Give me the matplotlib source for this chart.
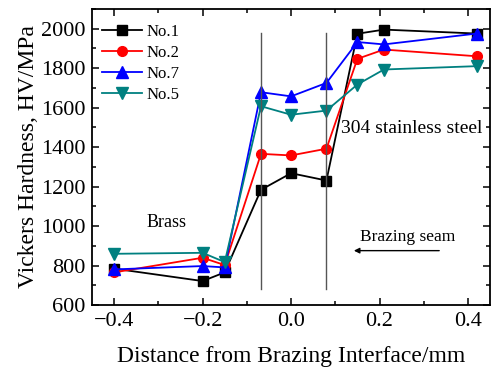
import matplotlib
matplotlib.use('Agg')
import matplotlib.pyplot as plt
from matplotlib.ticker import MultipleLocator

plt.rcParams['font.family'] = ['Liberation Serif', 'DejaVu Serif']
plt.rcParams['mathtext.fontset'] = 'stix'

# distance from brazing interface (mm)
distance = [-0.4, -0.2, -0.15, -0.068, 0.0, 0.08, 0.15, 0.21, 0.42]

# hardness values (HV/MPa)
no1 = [785, 722, 766, 1184, 1268, 1231, 1974, 1995, 1975]
no2 = [766, 840, 803, 1366, 1358, 1392, 1847, 1894, 1860]
no7 = [781, 798, 791, 1678, 1657, 1725, 1932, 1920, 1975]
no5 = [860, 865, 818, 1607, 1564, 1585, 1717, 1793, 1810]

series = [
    ('No.1', no1, 'black', 's', 6.5),
    ('No.2', no2, 'red', 'o', 7),
    ('No.7', no7, 'blue', '^', 8),
    ('No.5', no5, '#008080', 'v', 8),
]

# brazing seam boundaries
seam_x = [-0.068, 0.08]

fig = plt.figure(figsize=(4.95, 3.69), dpi=100)
ax = fig.add_axes([0.186, 0.173, 0.804, 0.803])

for label, vals, col, mk, ms in series:
    ax.plot(distance, vals, '-', color=col, marker=mk, markersize=ms,
            lw=1.3, label=label)

for sx in seam_x:
    ax.plot([sx, sx], [680, 1980], '-', color='#555555', lw=1)

ax.text(0.273, 1495, '304 stainless steel', fontsize=14,
        ha='center', va='center')
ax.text(-0.282, 1018, 'Brass', fontsize=13, ha='center', va='center')
ax.text(0.264, 947, 'Brazing seam', fontsize=12.5, ha='center', va='center')
ax.annotate('', xy=(0.142, 876), xytext=(0.335, 876),
            arrowprops=dict(arrowstyle='-|>', color='k', lw=1,
                            mutation_scale=8, shrinkA=0, shrinkB=0))

ax.set_xlim(-0.45, 0.45)
ax.set_ylim(600, 2100)
ax.xaxis.set_major_locator(MultipleLocator(0.2))
ax.xaxis.set_minor_locator(MultipleLocator(0.1))
ax.yaxis.set_major_locator(MultipleLocator(200))
ax.yaxis.set_minor_locator(MultipleLocator(100))
ax.set_yticks([600, 800, 1000, 1200, 1400, 1600, 1800, 2000])
ax.tick_params(which='both', direction='in', top=True, right=True,
               width=1.1)
ax.tick_params(which='major', length=5, labelsize=16, pad=5)
ax.tick_params(which='minor', length=3)
for sp in ax.spines.values():
    sp.set_linewidth(1.3)

ax.set_xlabel('Distance from Brazing Interface/mm', fontsize=17, labelpad=11)
ax.set_ylabel('Vickers Hardness, HV/MPa', fontsize=17, labelpad=1)

ax.legend(loc='upper left', bbox_to_anchor=(0.008, 0.972), frameon=False,
          fontsize=12, handlelength=2.4, handletextpad=0.25,
          labelspacing=0.3, borderaxespad=0)

fig.savefig('out.png', dpi=100)
